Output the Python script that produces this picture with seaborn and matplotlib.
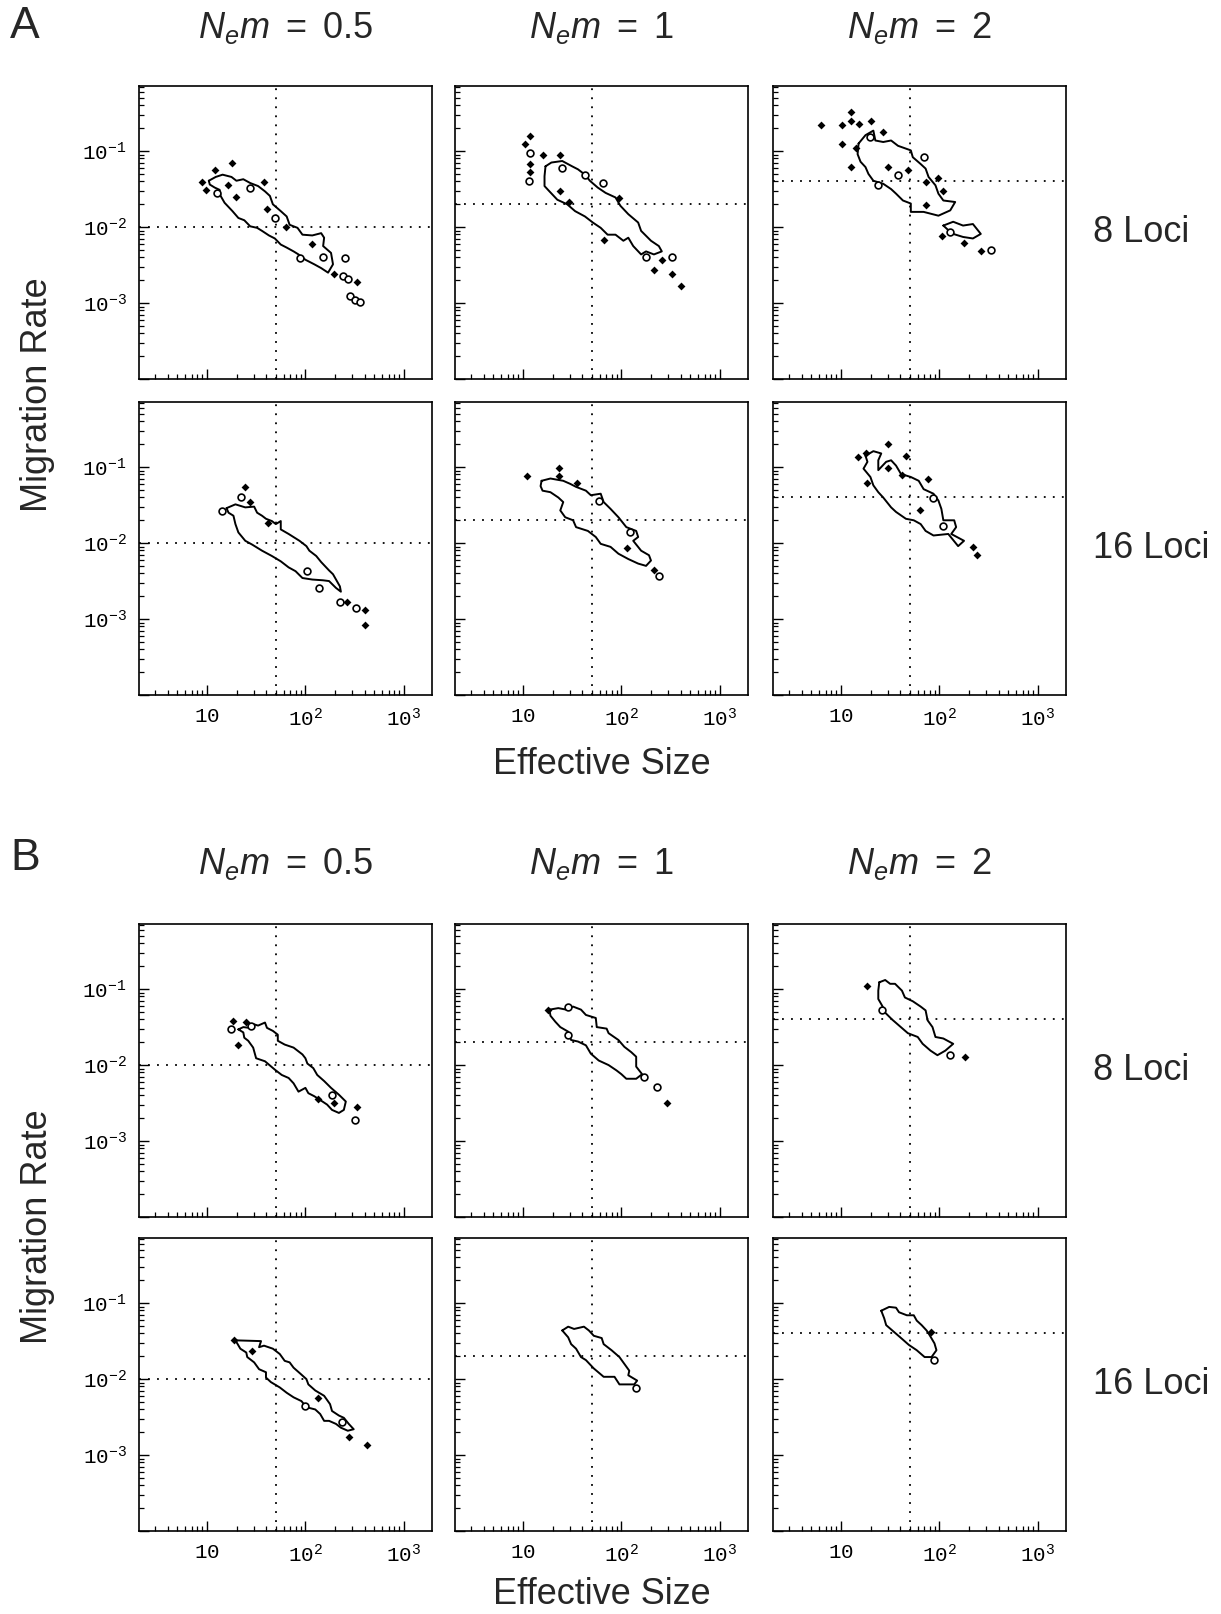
import numpy as np
import matplotlib
matplotlib.use("Agg")
import matplotlib.pyplot as plt
import seaborn as sns
from matplotlib.ticker import FixedLocator, LogLocator, NullFormatter

# all coordinates below are (log10 Ne, log10 m)
NEM = [0.5, 1, 2]
NE_TRUE = 50

# ---- A, 8 loci
a8_05_contour = [(1.02, -1.39), (1.09, -1.34), (1.16, -1.31), (1.25, -1.34), (1.30, -1.39), (1.37, -1.37),
                 (1.44, -1.42), (1.52, -1.46), (1.59, -1.53), (1.64, -1.59), (1.67, -1.70), (1.75, -1.79),
                 (1.81, -1.86), (1.84, -1.97), (1.92, -2.01), (1.97, -2.10), (2.07, -2.11), (2.16, -2.08),
                 (2.19, -2.14), (2.18, -2.25), (2.26, -2.34), (2.28, -2.49), (2.23, -2.60), (2.16, -2.54),
                 (2.09, -2.49), (2.00, -2.43), (1.93, -2.36), (1.88, -2.32), (1.81, -2.27), (1.75, -2.23),
                 (1.69, -2.15), (1.63, -2.11), (1.56, -2.05), (1.51, -2.01), (1.44, -1.99), (1.38, -1.91),
                 (1.32, -1.88), (1.26, -1.79), (1.18, -1.68), (1.14, -1.59), (1.13, -1.51), (1.08, -1.48),
                 (1.03, -1.44)]
a8_05_islands = [(1.10, -1.55), (1.44, -1.48), (1.69, -1.88), (2.18, -2.39), (2.40, -2.41), (1.95, -2.41),
                 (2.38, -2.65), (2.43, -2.69), (2.45, -2.91), (2.50, -2.96), (2.55, -2.99)]
a8_05_points = [(0.95, -1.40), (0.99, -1.51), (1.08, -1.25), (1.26, -1.15), (1.21, -1.45), (1.30, -1.61),
                (1.58, -1.40), (1.61, -1.76), (1.80, -2.00), (2.07, -2.22), (2.29, -2.62), (2.52, -2.72)]

a8_1_contour = [(1.23, -1.20), (1.29, -1.15), (1.40, -1.13), (1.50, -1.20), (1.56, -1.24), (1.63, -1.31),
                (1.68, -1.39), (1.76, -1.48), (1.84, -1.55), (1.94, -1.61), (1.99, -1.72), (2.07, -1.83),
                (2.17, -1.94), (2.20, -2.05), (2.30, -2.18), (2.38, -2.25), (2.41, -2.32), (2.33, -2.36),
                (2.25, -2.32), (2.20, -2.36), (2.12, -2.25), (2.07, -2.14), (2.02, -2.18), (1.94, -2.10),
                (1.86, -2.10), (1.79, -2.01), (1.71, -1.94), (1.63, -1.86), (1.53, -1.79), (1.45, -1.70),
                (1.35, -1.64), (1.27, -1.53), (1.22, -1.46), (1.22, -1.33)]
a8_1_islands = [(1.07, -1.02), (1.06, -1.39), (1.40, -1.22), (1.63, -1.31), (1.81, -1.42), (2.51, -2.40),
                (2.25, -2.40)]
a8_1_points = [(1.07, -0.80), (1.02, -0.91), (1.20, -1.05), (1.38, -1.05), (1.07, -1.17), (1.07, -1.27),
               (1.38, -1.52), (1.47, -1.67), (1.82, -2.17), (1.98, -1.62), (2.33, -2.57), (2.51, -2.62),
               (2.60, -2.78), (2.41, -2.43)]

a8_2_contour = [(1.18, -0.90), (1.25, -0.79), (1.33, -0.73), (1.35, -0.86), (1.43, -0.88), (1.51, -0.86),
                (1.58, -0.93), (1.71, -0.99), (1.73, -1.08), (1.81, -1.17), (1.86, -1.23), (1.89, -1.34),
                (1.96, -1.45), (1.99, -1.56), (2.04, -1.65), (2.16, -1.67), (2.11, -1.78), (1.99, -1.85),
                (1.84, -1.80), (1.71, -1.80), (1.71, -1.69), (1.63, -1.65), (1.56, -1.56), (1.51, -1.50),
                (1.43, -1.43), (1.33, -1.39), (1.28, -1.30), (1.25, -1.21), (1.20, -1.14), (1.17, -1.04)]
a8_2_contour_tail = [(2.04, -1.98), (2.14, -1.93), (2.24, -1.98), (2.34, -1.96), (2.42, -2.09), (2.34, -2.15),
                     (2.24, -2.13), (2.14, -2.09), (2.09, -2.04)]
a8_2_islands = [(1.30, -0.81), (1.58, -1.32), (2.52, -2.30), (2.11, -2.06), (1.38, -1.45), (1.84, -1.08)]
a8_2_points = [(0.80, -0.66), (1.01, -0.65), (1.10, -0.49), (1.10, -0.60), (1.18, -0.64), (1.31, -0.60),
               (1.01, -0.90), (1.15, -0.96), (1.10, -1.21), (1.43, -0.75), (1.48, -1.21), (1.86, -1.41),
               (1.99, -1.35), (2.04, -1.53), (1.86, -1.71), (2.03, -2.12), (2.25, -2.21), (2.42, -2.31),
               (1.68, -1.25)]

# ---- A, 16 loci
a16_05_contour = [(1.20, -1.54), (1.29, -1.49), (1.39, -1.53), (1.48, -1.52), (1.51, -1.60), (1.56, -1.64),
                  (1.60, -1.68), (1.66, -1.71), (1.70, -1.75), (1.75, -1.71), (1.75, -1.82), (1.83, -1.88),
                  (1.94, -1.97), (2.01, -2.04), (2.04, -2.10), (2.11, -2.17), (2.16, -2.25), (2.24, -2.36),
                  (2.28, -2.41), (2.35, -2.57), (2.36, -2.64), (2.31, -2.59), (2.24, -2.50), (2.18, -2.49),
                  (2.07, -2.48), (1.97, -2.46), (1.90, -2.37), (1.83, -2.32), (1.75, -2.24), (1.66, -2.17),
                  (1.56, -2.10), (1.46, -2.02), (1.39, -1.97), (1.32, -1.86), (1.29, -1.75), (1.27, -1.64),
                  (1.22, -1.60)]
a16_05_islands = [(1.15, -1.58), (1.35, -1.39), (2.02, -2.37), (2.14, -2.59), (2.35, -2.77), (2.51, -2.85)]
a16_05_points = [(1.39, -1.26), (1.44, -1.46), (1.62, -1.73), (2.42, -2.78), (2.60, -2.88), (2.60, -3.08)]

a16_1_contour = [(1.19, -1.18), (1.28, -1.15), (1.41, -1.18), (1.48, -1.22), (1.54, -1.26), (1.64, -1.31),
                 (1.69, -1.37), (1.79, -1.35), (1.82, -1.46), (1.89, -1.55), (1.97, -1.66), (2.05, -1.79),
                 (2.15, -1.84), (2.17, -1.92), (2.12, -1.97), (2.20, -2.10), (2.28, -2.16), (2.30, -2.23),
                 (2.25, -2.30), (2.17, -2.27), (2.07, -2.21), (1.97, -2.14), (1.89, -2.05), (1.79, -2.01),
                 (1.74, -1.92), (1.66, -1.84), (1.54, -1.79), (1.51, -1.70), (1.43, -1.66), (1.38, -1.57),
                 (1.41, -1.46), (1.36, -1.40), (1.28, -1.33), (1.20, -1.31), (1.18, -1.25)]
a16_1_islands = [(1.77, -1.44), (2.38, -2.43), (2.09, -1.86)]
a16_1_points = [(1.04, -1.12), (1.37, -1.01), (1.37, -1.12), (1.55, -1.21), (2.06, -2.06), (2.33, -2.36)]

a16_2_contour = [(1.25, -0.85), (1.33, -0.79), (1.41, -0.82), (1.38, -0.91), (1.38, -1.04), (1.46, -0.93),
                 (1.51, -0.91), (1.56, -0.98), (1.61, -1.09), (1.71, -1.13), (1.79, -1.18), (1.84, -1.29),
                 (1.94, -1.35), (1.99, -1.44), (2.02, -1.55), (2.04, -1.70), (2.15, -1.70), (2.17, -1.79),
                 (2.12, -1.88), (2.25, -1.97), (2.19, -2.04), (2.09, -1.88), (1.94, -1.90), (1.86, -1.84),
                 (1.81, -1.75), (1.74, -1.70), (1.66, -1.68), (1.56, -1.59), (1.51, -1.53), (1.43, -1.40),
                 (1.38, -1.33), (1.33, -1.24), (1.30, -1.13), (1.23, -1.02), (1.27, -0.93)]
a16_2_islands = [(2.04, -1.77), (1.94, -1.40)]
a16_2_points = [(1.17, -0.87), (1.26, -0.82), (1.48, -0.70), (1.66, -0.85), (1.48, -1.01), (1.62, -1.11),
                (1.88, -1.16), (1.80, -1.56), (1.27, -1.21), (2.34, -2.05), (2.38, -2.16)]

# ---- B, 8 loci
b8_05_contour = [(1.32, -1.53), (1.37, -1.50), (1.43, -1.51), (1.47, -1.46), (1.52, -1.48), (1.59, -1.44),
                 (1.61, -1.51), (1.67, -1.55), (1.72, -1.60), (1.72, -1.68), (1.79, -1.73), (1.88, -1.77),
                 (1.97, -1.86), (2.00, -1.91), (2.02, -1.98), (2.08, -2.04), (2.12, -2.13), (2.19, -2.21),
                 (2.26, -2.30), (2.34, -2.39), (2.41, -2.48), (2.39, -2.59), (2.34, -2.63), (2.27, -2.59),
                 (2.22, -2.52), (2.15, -2.46), (2.09, -2.41), (2.03, -2.37), (2.00, -2.30), (1.93, -2.35),
                 (1.88, -2.24), (1.83, -2.17), (1.76, -2.13), (1.69, -2.06), (1.59, -1.95), (1.50, -1.91),
                 (1.47, -1.77), (1.42, -1.68), (1.38, -1.64), (1.37, -1.57)]
b8_05_islands = [(1.25, -1.53), (1.45, -1.49), (2.27, -2.39), (2.50, -2.72)]
b8_05_points = [(1.27, -1.42), (1.40, -1.43), (1.32, -1.74), (2.13, -2.44), (2.29, -2.50), (2.52, -2.55)]

b8_1_contour = [(1.27, -1.27), (1.36, -1.25), (1.44, -1.27), (1.51, -1.23), (1.59, -1.27), (1.64, -1.34),
                (1.74, -1.38), (1.75, -1.50), (1.85, -1.52), (1.87, -1.58), (1.97, -1.67), (2.03, -1.76),
                (2.10, -1.83), (2.15, -1.89), (2.15, -2.02), (2.21, -2.12), (2.15, -2.18), (2.05, -2.18),
                (2.00, -2.12), (1.95, -2.07), (1.87, -2.00), (1.77, -1.94), (1.69, -1.85), (1.64, -1.74),
                (1.56, -1.69), (1.49, -1.67), (1.46, -1.56), (1.38, -1.50), (1.33, -1.43), (1.28, -1.35)]
b8_1_islands = [(1.46, -1.23), (2.23, -2.16), (2.36, -2.29), (1.46, -1.60)]
b8_1_points = [(1.26, -1.27), (2.46, -2.50)]

b8_2_contour = [(1.39, -0.91), (1.45, -0.88), (1.50, -0.93), (1.55, -0.93), (1.62, -1.02), (1.65, -1.11),
                (1.73, -1.16), (1.81, -1.23), (1.86, -1.28), (1.88, -1.41), (1.93, -1.50), (1.96, -1.63),
                (2.04, -1.65), (2.14, -1.72), (2.06, -1.81), (1.98, -1.87), (1.91, -1.81), (1.83, -1.72),
                (1.78, -1.63), (1.68, -1.58), (1.60, -1.49), (1.52, -1.40), (1.45, -1.31), (1.42, -1.22),
                (1.38, -1.13), (1.38, -1.02)]
b8_2_islands = [(1.42, -1.27), (2.11, -1.87)]
b8_2_points = [(1.27, -0.96), (2.26, -1.89)]

# ---- B, 16 loci
b16_05_contour = [(1.29, -1.49), (1.55, -1.50), (1.53, -1.58), (1.58, -1.56), (1.67, -1.60), (1.74, -1.67),
                  (1.79, -1.76), (1.84, -1.78), (1.88, -1.85), (1.95, -1.93), (2.01, -2.00), (2.03, -2.07),
                  (2.10, -2.15), (2.19, -2.22), (2.25, -2.33), (2.27, -2.42), (2.34, -2.48), (2.39, -2.51),
                  (2.44, -2.59), (2.49, -2.66), (2.43, -2.68), (2.36, -2.64), (2.31, -2.59), (2.24, -2.55),
                  (2.19, -2.55), (2.15, -2.46), (2.10, -2.40), (2.01, -2.37), (1.96, -2.29), (1.88, -2.24),
                  (1.81, -2.18), (1.74, -2.11), (1.65, -2.04), (1.60, -1.98), (1.60, -1.91), (1.53, -1.87),
                  (1.48, -1.78), (1.41, -1.71), (1.40, -1.65), (1.34, -1.60)]
b16_05_islands = [(2.00, -2.35), (2.37, -2.57)]
b16_05_points = [(1.28, -1.48), (1.46, -1.63), (2.13, -2.25), (2.44, -2.76), (2.62, -2.87)]

b16_1_contour = [(1.40, -1.36), (1.46, -1.31), (1.52, -1.34), (1.62, -1.31), (1.67, -1.36), (1.72, -1.43),
                 (1.80, -1.46), (1.82, -1.54), (1.90, -1.62), (1.98, -1.71), (2.03, -1.80), (2.08, -1.89),
                 (2.07, -1.95), (2.16, -2.02), (2.13, -2.07), (1.98, -2.07), (1.93, -1.97), (1.82, -1.97),
                 (1.72, -1.86), (1.64, -1.75), (1.59, -1.71), (1.54, -1.60), (1.49, -1.54), (1.46, -1.45)]
b16_1_islands = [(2.15, -2.12)]
b16_1_points = []

b16_2_contour = [(1.41, -1.10), (1.49, -1.05), (1.56, -1.06), (1.59, -1.12), (1.67, -1.16), (1.74, -1.16),
                 (1.77, -1.23), (1.82, -1.29), (1.87, -1.36), (1.90, -1.42), (1.95, -1.53), (1.97, -1.62),
                 (1.92, -1.71), (1.85, -1.71), (1.77, -1.62), (1.69, -1.55), (1.62, -1.47), (1.54, -1.38),
                 (1.46, -1.29), (1.44, -1.20)]
b16_2_islands = [(1.95, -1.75)]
b16_2_points = [(1.91, -1.38)]

PANELS = {
    ("A", 0): [([a8_05_contour], a8_05_islands, a8_05_points),
               ([a8_1_contour], a8_1_islands, a8_1_points),
               ([a8_2_contour, a8_2_contour_tail], a8_2_islands, a8_2_points)],
    ("A", 1): [([a16_05_contour], a16_05_islands, a16_05_points),
               ([a16_1_contour], a16_1_islands, a16_1_points),
               ([a16_2_contour], a16_2_islands, a16_2_points)],
    ("B", 0): [([b8_05_contour], b8_05_islands, b8_05_points),
               ([b8_1_contour], b8_1_islands, b8_1_points),
               ([b8_2_contour], b8_2_islands, b8_2_points)],
    ("B", 1): [([b16_05_contour], b16_05_islands, b16_05_points),
               ([b16_1_contour], b16_1_islands, b16_1_points),
               ([b16_2_contour], b16_2_islands, b16_2_points)],
}

X_TICKS = [10, 100, 1000]
X_LABELS = [r"$\mathtt{10}$", r"$\mathtt{10}^{\mathtt{2}}$", r"$\mathtt{10}^{\mathtt{3}}$"]
Y_TICKS = [1e-4, 1e-3, 1e-2, 1e-1]
Y_LABELS = ["", r"$\mathtt{10}^{\mathtt{-3}}$", r"$\mathtt{10}^{\mathtt{-2}}$", r"$\mathtt{10}^{\mathtt{-1}}$"]

sns.set_style("ticks")
plt.rcParams["font.family"] = ["Liberation Sans", "DejaVu Sans"]
plt.rcParams["mathtext.fontset"] = "custom"
plt.rcParams["mathtext.rm"] = "Liberation Sans"
plt.rcParams["mathtext.it"] = "Liberation Sans:italic"
plt.rcParams["mathtext.tt"] = "Liberation Mono"

W_PX, H_PX = 1221, 1614
fig = plt.figure(figsize=(W_PX / 100, H_PX / 100), dpi=100)
fig.patch.set_facecolor("white")

COL_LEFT = [139, 455, 773]
ROW_TOP = {("A", 0): 86, ("A", 1): 402, ("B", 0): 924, ("B", 1): 1238}
AX_W, AX_H = 293, 293


def unlog(pairs):
    arr = np.array(pairs, dtype=float).reshape(-1, 2)
    return 10 ** arr[:, 0], 10 ** arr[:, 1]


for (panel, row), cells in PANELS.items():
    top = ROW_TOP[(panel, row)]
    for col, (contours, islands, points) in enumerate(cells):
        left = COL_LEFT[col]
        ax = fig.add_axes([left / W_PX, 1 - (top + AX_H) / H_PX, AX_W / W_PX, AX_H / H_PX])
        ax.set_xscale("log")
        ax.set_yscale("log")
        ax.set_xlim(2.05, 1925)
        ax.set_ylim(1e-4, 0.72)

        ax.axvline(NE_TRUE, color="k", lw=1.3, ls=(0, (1, 4)))
        ax.axhline(NEM[col] / NE_TRUE, color="k", lw=1.3, ls=(0, (1, 4)))

        for poly in contours:
            cx, cy = unlog(poly + poly[:1])
            sns.lineplot(x=cx, y=cy, sort=False, estimator=None, color="k", lw=1.4, ax=ax)
        if islands:
            ix, iy = unlog(islands)
            sns.scatterplot(x=ix, y=iy, marker="o", s=24, facecolor="white", edgecolor="k",
                            linewidth=1.2, ax=ax, zorder=3)
        if points:
            px, py = unlog(points)
            sns.scatterplot(x=px, y=py, marker="D", s=16, color="k", linewidth=0, ax=ax, zorder=4)

        ax.set_xlabel("")
        ax.set_ylabel("")
        ax.xaxis.set_major_locator(FixedLocator(X_TICKS))
        ax.xaxis.set_minor_locator(LogLocator(base=10, subs=np.arange(2, 10), numticks=20))
        ax.yaxis.set_major_locator(FixedLocator(Y_TICKS))
        ax.yaxis.set_minor_locator(LogLocator(base=10, subs=np.arange(2, 10), numticks=20))
        ax.xaxis.set_minor_formatter(NullFormatter())
        ax.yaxis.set_minor_formatter(NullFormatter())
        if row == 1:
            ax.set_xticklabels(X_LABELS, fontsize=15)
        else:
            ax.set_xticklabels([])
        if col == 0:
            ax.set_yticklabels(Y_LABELS, fontsize=15)
        else:
            ax.set_yticklabels([])
        ax.tick_params(which="both", direction="in", top=False, right=False, colors="k")
        ax.tick_params(which="major", length=7, width=1.0, pad=9)
        ax.tick_params(which="minor", length=3.5, width=0.9)
        for sp in ax.spines.values():
            sp.set_visible(True)
            sp.set_color("k")
            sp.set_linewidth(1.2)


def ftext(x, y, s, **kw):
    fig.text(x / W_PX, 1 - y / H_PX, s, **kw)


TITLES = [r"$N_e m\ =\ 0.5$", r"$N_e m\ =\ 1$", r"$N_e m\ =\ 2$"]
for panel, label_y, title_y, ylab_y, xlab_y in [("A", 26, 28, 395, 764), ("B", 859, 864, 1227, 1594)]:
    ftext(10, label_y, panel, fontsize=32, va="center", ha="left")
    for col, t in enumerate(TITLES):
        ftext(COL_LEFT[col] + AX_W / 2, title_y, t, fontsize=26, ha="center", va="center")
    ftext(38, ylab_y, "Migration Rate", fontsize=26, rotation=90, ha="center", va="center")
    ftext(COL_LEFT[1] + AX_W / 2, xlab_y, "Effective Size", fontsize=26, ha="center", va="center")
    ftext(1093, ROW_TOP[(panel, 0)] + AX_H / 2, "8 Loci", fontsize=26, ha="left", va="center")
    ftext(1093, ROW_TOP[(panel, 1)] + AX_H / 2, "16 Loci", fontsize=26, ha="left", va="center")

fig.savefig("out.png", dpi=100, facecolor="white")
